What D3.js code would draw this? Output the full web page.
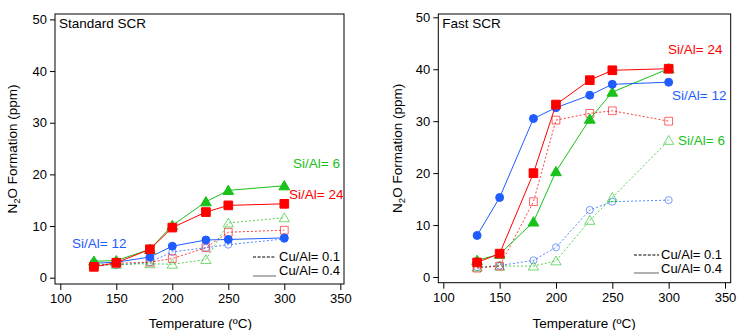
<!DOCTYPE html>
<html><head><meta charset="utf-8">
<script src="https://cdn.jsdelivr.net/npm/d3@7"></script>
<style>body{margin:0;background:#fff}svg{display:block;font-family:"Liberation Sans",Arial,sans-serif}</style>
</head><body><svg id="c" width="737" height="330"></svg>
<script>
const temps = [130, 150, 180, 200, 230, 250, 300];
const xTicks = [100, 150, 200, 250, 300, 350];
const yTicks = [0, 10, 20, 30, 40, 50];

// Standard SCR
const stdSi6_Cu04  = [3.2, 3.3, 5.5, 10.1, 14.7, 16.9, 17.8];
const stdSi24_Cu04 = [2.1, 2.9, 5.5, 9.7, 12.7, 14.0, 14.3];
const stdSi12_Cu04 = [2.8, 3.0, 4.0, 6.1, 7.3, 7.4, 7.7];
const stdSi6_Cu01  = [2.6, 2.6, 2.7, 2.6, 3.5, 10.6, 11.6];
const stdSi24_Cu01 = [2.3, 2.8, 3.0, 3.7, 5.8, 8.8, 9.2];
const stdSi12_Cu01 = [2.5, 2.4, 3.0, 5.0, 5.8, 6.4, 7.5];

// Fast SCR
const fastSi24_Cu04 = [2.8, 4.5, 20.0, 33.2, 37.9, 39.8, 40.1];
const fastSi12_Cu04 = [8.0, 15.3, 30.5, 32.6, 35.0, 37.1, 37.5];
const fastSi6_Cu04  = [3.2, 4.4, 10.6, 20.3, 30.4, 35.6, 40.1];
const fastSi24_Cu01 = [1.7, 2.1, 14.5, 30.2, 31.5, 32.0, 30.0];
const fastSi12_Cu01 = [1.9, 2.2, 3.2, 5.7, 12.9, 14.5, 14.8];
const fastSi6_Cu01  = [1.9, 2.1, 2.1, 3.1, 10.9, 15.3, 26.3];

const colors = {6: "#19c119", 12: "#1f5dff", 24: "#ff0000"};
const shapes = {6: d3.symbolTriangle, 12: d3.symbolCircle, 24: d3.symbolSquare};

const panels = [
  {title: "Standard SCR", xr: [60.3, 340.3], yr: [277.7, 19.4], frame: [55, 14, 344, 284],
   ylabX: 17,
   series: [
     {si: 12, cu: 0.1, v: stdSi12_Cu01}, {si: 24, cu: 0.1, v: stdSi24_Cu01}, {si: 6, cu: 0.1, v: stdSi6_Cu01},
     {si: 12, cu: 0.4, v: stdSi12_Cu04}, {si: 6, cu: 0.4, v: stdSi6_Cu04}, {si: 24, cu: 0.4, v: stdSi24_Cu04}],
   labels: [{si: 6, t: "Si/Al= 6", x: 340, y: 168, a: "end"}, {si: 24, t: "Si/Al= 24", x: 289, y: 199, a: "start"},
            {si: 12, t: "Si/Al= 12", x: 72, y: 248, a: "start"}],
   leg: {x1: 253, x2: 276, tx: 279, y1: 257, b1: 261, y2: 276, b2: 275}},
  {title: "Fast SCR", xr: [443.3, 725], yr: [277, 17.3], frame: [438.3, 14, 730.7, 282.7],
   ylabX: 402,
   series: [
     {si: 12, cu: 0.1, v: fastSi12_Cu01}, {si: 6, cu: 0.1, v: fastSi6_Cu01}, {si: 24, cu: 0.1, v: fastSi24_Cu01},
     {si: 6, cu: 0.4, v: fastSi6_Cu04}, {si: 12, cu: 0.4, v: fastSi12_Cu04}, {si: 24, cu: 0.4, v: fastSi24_Cu04}],
   labels: [{si: 24, t: "Si/Al= 24", x: 668, y: 54, a: "start"}, {si: 12, t: "Si/Al= 12", x: 672, y: 100, a: "start"},
            {si: 6, t: "Si/Al= 6", x: 678, y: 145, a: "start"}],
   leg: {x1: 634, x2: 659, tx: 661, y1: 255, b1: 259, y2: 273, b2: 272.5}}
];

const svg = d3.select("#c");
panels.forEach(p => {
  const x = d3.scaleLinear().domain([100, 350]).range(p.xr);
  const y = d3.scaleLinear().domain([0, 50]).range(p.yr);
  const g = svg.append("g");
  const [fl, ft, fr, fb] = p.frame;
  g.append("rect").attr("x", fl).attr("y", ft).attr("width", fr - fl).attr("height", fb - ft)
    .attr("fill", "none").attr("stroke", "#000").attr("stroke-width", 1);

  const ya = g.append("g").attr("transform", `translate(${fl},0)`)
    .call(d3.axisLeft(y).tickValues(yTicks).tickSize(5).tickPadding(3));
  const xa = g.append("g").attr("transform", `translate(0,${fb})`)
    .call(d3.axisBottom(x).tickValues(xTicks).tickSize(6).tickPadding(4));
  [ya, xa].forEach(a => {
    a.select(".domain").remove();
    a.selectAll("text").attr("font-size", 13).attr("fill", "#000").attr("font-family", "Liberation Sans, Arial, sans-serif");
    a.selectAll("line").attr("stroke", "#000");
  });

  g.append("text").attr("x", fl + 4).attr("y", ft + 14).attr("font-size", 13.5).text(p.title);

  const yl = g.append("text").attr("transform", `translate(${p.ylabX},${(ft + fb) / 2}) rotate(-90)`)
    .attr("text-anchor", "middle").attr("font-size", 13.5);
  yl.append("tspan").text("N");
  yl.append("tspan").attr("font-size", 9.5).attr("dy", 3).text("2");
  yl.append("tspan").attr("dy", -3).text("O Formation (ppm)");

  g.append("text").attr("x", (p.xr[0] + p.xr[1]) / 2).attr("y", 328).attr("text-anchor", "middle")
    .attr("font-size", 13.5).text("Temperature (ºC)");

  const line = d3.line().x(d => x(d[0])).y(d => y(d[1]));
  p.series.forEach(s => {
    const pts = temps.map((t, i) => [t, s.v[i]]);
    const open = s.cu === 0.1;
    const col = colors[s.si];
    g.append("path").attr("d", line(pts)).attr("fill", "none").attr("stroke", col)
      .attr("stroke-width", 1).attr("stroke-opacity", open ? 0.75 : 1)
      .attr("stroke-dasharray", open ? "2,2" : null);
    const sz = s.si === 12 ? (open ? 40 : 50) : (s.si === 6 ? (open ? 45 : 50) : (open ? 60 : 75));
    g.selectAll(null).data(pts).join("path")
      .attr("transform", d => `translate(${x(d[0])},${y(d[1]) + (s.si === 6 ? 1 : 0)})`)
      .attr("d", d3.symbol().type(shapes[s.si]).size(sz))
      .attr("fill", open ? "none" : col).attr("stroke", col)
      .attr("stroke-opacity", open ? 0.6 : 1).attr("stroke-width", 1);
  });

  p.labels.forEach(l => {
    g.append("text").attr("x", l.x).attr("y", l.y).attr("text-anchor", l.a)
      .attr("font-size", 13.5).attr("fill", colors[l.si]).text(l.t);
  });

  const L = p.leg;
  g.append("line").attr("x1", L.x1).attr("x2", L.x2).attr("y1", L.y1).attr("y2", L.y1)
    .attr("stroke", "#000").attr("stroke-dasharray", "3,1.6");
  g.append("line").attr("x1", L.x1).attr("x2", L.x2).attr("y1", L.y2).attr("y2", L.y2)
    .attr("stroke", "#999").attr("stroke-width", 1.5);
  g.append("text").attr("x", L.tx).attr("y", L.b1).attr("font-size", 13).text("Cu/Al= 0.1");
  g.append("text").attr("x", L.tx).attr("y", L.b2).attr("font-size", 13).text("Cu/Al= 0.4");
});
</script></body></html>
